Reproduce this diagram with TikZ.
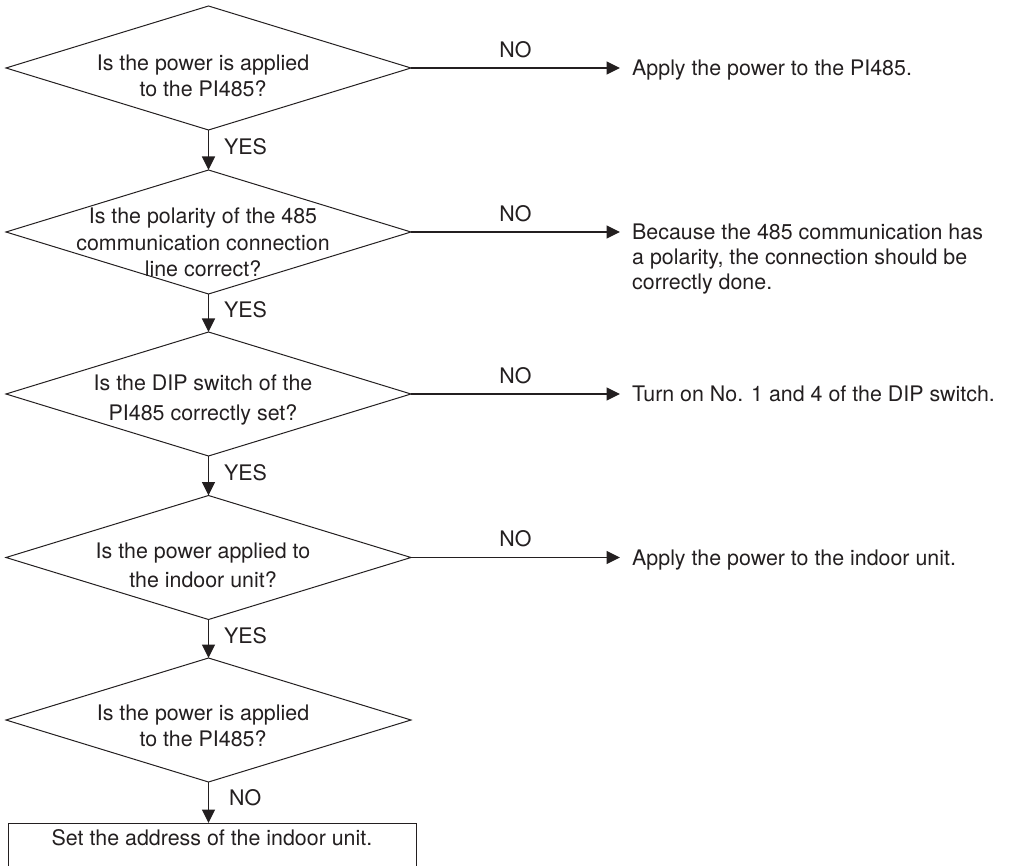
\documentclass[tikz,border=0pt]{standalone}
\usepackage{fontspec}
\setmainfont{TeX Gyre Heros}
\usetikzlibrary{shapes.geometric,arrows.meta}
\definecolor{ink}{HTML}{231F20}
\begin{document}
\begin{tikzpicture}[x=1pt,y=-1pt,
  every node/.style={text=ink},
  decision/.style={draw=ink, line width=1pt, shape=diamond,
    minimum width=405pt, minimum height=124pt, inner sep=0pt, outer sep=0pt},
  question/.style={anchor=north, align=center, inner sep=0pt,
    font=\fontsize{21.4}{#1}\selectfont},
  answer/.style={anchor=north west, align=left, inner xsep=12pt, inner ysep=0pt,
    font=\fontsize{21.4}{25}\selectfont},
  lbl/.style={inner sep=0pt, font=\fontsize{21.4}{25}\selectfont},
  flow/.style={draw=ink, line width=1.3pt, -{Triangle[length=13.5pt,width=13pt]}},
  result/.style={draw=ink, line width=1pt, anchor=north, minimum width=408pt,
    inner ysep=6pt, text height=16pt, text depth=40pt,
    font=\fontsize{21.4}{25}\selectfont}
]
\useasboundingbox (0,0) rectangle (1009,866);
\clip (0,0) rectangle (1009,866);

% decisions
\node[decision] (d1) at (208.5,68) {};
\node[decision] (d2) at (208.5,232) {};
\node[decision] (d3) at (208.5,394) {};
\node[decision] (d4) at (208.5,557.5) {};
\node[decision] (d5) at (208.5,720) {};

% questions inside the decisions
\node[question=26]   (q1) at (203,54.7)  {Is the power is applied\\to the PI485?};
\node[question=26.5] (q2) at (203,208)   {Is the polarity of the 485\\communication connection\\line correct?};
\node[question=30]   (q3) at (203,374.7) {Is the DIP switch of the\\PI485 correctly set?};
\node[question=29]   (q4) at (203,543)   {Is the power applied to\\the indoor unit?};
\node[question=26]   (q5) at (203,704.7) {Is the power is applied\\to the PI485?};

% remedies on the NO branches
\node[answer] (a1) at (620,60)    {Apply the power to the PI485.};
\node[answer] (a2) at (620,224)   {Because the 485 communication has\\a polarity, the connection should be\\correctly done.};
\node[answer] (a3) at (620,386)   {Turn on No. 1 and 4 of the DIP switch.};
\node[answer] (a4) at (620,549.5) {Apply the power to the indoor unit.};

% final step
\node[result] (box) at (212,823) {Set the address of the indoor unit.};

% NO branches
\draw[flow] (d1.east) -- node[lbl, above=9.5pt] {NO} (d1.east -| a1.west);
\draw[flow] (d2.east) -- node[lbl, above=9.5pt] {NO} (d2.east -| a2.west);
\draw[flow] (d3.east) -- node[lbl, above=9.5pt] {NO} (d3.east -| a3.west);
\draw[flow] (d4.east) -- node[lbl, above=9.5pt] {NO} (d4.east -| a4.west);

% main flow
\draw[flow] (d1.south) -- node[lbl, right=15pt, yshift=3pt] {YES} (d2.north);
\draw[flow] (d2.south) -- node[lbl, right=15pt, yshift=3pt] {YES} (d3.north);
\draw[flow] (d3.south) -- node[lbl, right=15pt, yshift=3pt] {YES} (d4.north);
\draw[flow] (d4.south) -- node[lbl, right=15pt, yshift=3pt] {YES} (d5.north);
\draw[flow] (d5.south) -- node[lbl, right=20pt, yshift=5pt] {NO} (d5.south |- box.north);
\end{tikzpicture}
\end{document}
